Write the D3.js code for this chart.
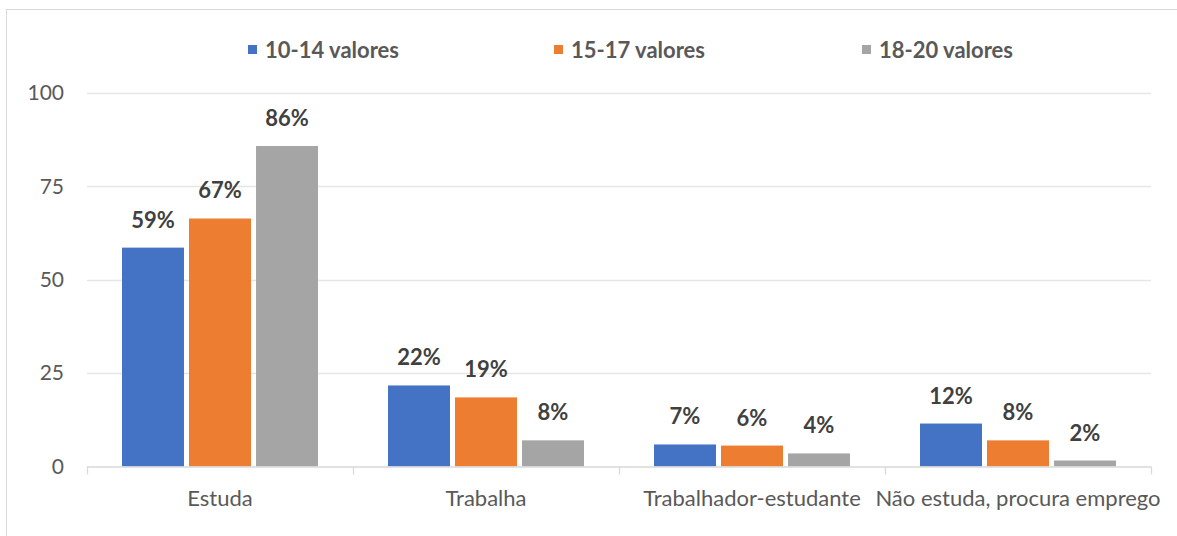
<!DOCTYPE html>
<html>
<head>
<meta charset="utf-8">
<script src="https://cdn.jsdelivr.net/npm/d3@7"></script>
<style>
  html, body { margin: 0; padding: 0; background: #fff; }
  svg { display: block; font-family: Lato, "Liberation Sans", sans-serif; }
</style>
</head>
<body>
<div id="chart"></div>
<script>
const categories = ["Estuda", "Trabalha", "Trabalhador-estudante", "Não estuda, procura emprego"];
const seriesNames = ["10-14 valores", "15-17 valores", "18-20 valores"];
const valores1014 = [58.6, 21.7, 5.9, 11.5];
const valores1517 = [66.4, 18.5, 5.6, 7.0];
const valores1820 = [85.8, 7.0, 3.5, 1.6];
const labels1014 = ["59%", "22%", "7%", "12%"];
const labels1517 = ["67%", "19%", "6%", "8%"];
const labels1820 = ["86%", "8%", "4%", "2%"];
const yTicks = [0, 25, 50, 75, 100];

const colors = ["#4472C4", "#ED7D31", "#A5A5A5"];
const width = 1177;
const height = 536;
const margin = { top: 93, right: 26, bottom: 70, left: 87 };
const y0 = 466.5;

const svg = d3.select("#chart")
    .append("svg")
    .attr("width", width)
    .attr("height", height);

// frame
svg.append("rect")
    .attr("x", 6.5)
    .attr("y", 9.5)
    .attr("width", width + 20)
    .attr("height", height + 20)
    .attr("fill", "none")
    .attr("stroke", "#D9D9D9")
    .attr("stroke-width", 1);

const series = [valores1014, valores1517, valores1820].map((vals, i) => ({
    name: seriesNames[i],
    color: colors[i],
    values: vals,
    labels: [labels1014, labels1517, labels1820][i]
}));

const x0 = d3.scaleBand().domain(categories).range([margin.left, 1151]).paddingInner(0).paddingOuter(0);
const x1 = d3.scaleBand().domain(seriesNames).range([35, x0.bandwidth() - 35]).paddingInner(0.075);
const yScale = d3.scaleLinear().domain([0, 100]).range([y0, margin.top]);

// gridlines
svg.append("g")
    .selectAll("line")
    .data(yTicks.slice(1))
    .enter()
    .append("line")
    .attr("x1", margin.left)
    .attr("x2", 1151)
    .attr("y1", d => Math.round(yScale(d)) + 0.5)
    .attr("y2", d => Math.round(yScale(d)) + 0.5)
    .attr("stroke", "#E6E6E6")
    .attr("stroke-width", 1.3);

// y tick labels
svg.append("g")
    .selectAll("text")
    .data(yTicks)
    .enter()
    .append("text")
    .attr("x", 64)
    .attr("y", d => yScale(d))
    .attr("dy", "0.35em")
    .attr("text-anchor", "end")
    .style("font-size", "21px")
    .style("fill", "#595959")
    .text(d => d);

// bars
const groups = svg.selectAll(".grp")
    .data(series)
    .enter()
    .append("g")
    .attr("class", "grp");

groups.selectAll("rect")
    .data(s => s.values.map((v, j) => ({ s: s, cat: categories[j], v: v, label: s.labels[j] })))
    .enter()
    .append("rect")
    .attr("x", d => x0(d.cat) + x1(d.s.name))
    .attr("y", d => yScale(d.v))
    .attr("width", x1.bandwidth())
    .attr("height", d => y0 - yScale(d.v))
    .attr("fill", d => d.s.color);

groups.selectAll("text")
    .data(s => s.values.map((v, j) => ({ s: s, cat: categories[j], v: v, label: s.labels[j] })))
    .enter()
    .append("text")
    .attr("x", d => x0(d.cat) + x1(d.s.name) + x1.bandwidth() / 2)
    .attr("y", d => yScale(d.v) - 20)
    .attr("text-anchor", "middle")
    .style("font-size", "22px")
    .style("font-weight", "bold")
    .style("fill", "#404040")
    .text(d => d.label);

// x axis
const xAxisGroup = svg.append("g")
    .attr("transform", `translate(0,${y0})`);
xAxisGroup.append("line")
    .attr("x1", margin.left)
    .attr("x2", 1151)
    .attr("y1", 0.5)
    .attr("y2", 0.5)
    .attr("stroke", "#D9D9D9")
    .attr("stroke-width", 1.3);
xAxisGroup.selectAll(".tick")
    .data(categories.map(c => x0(c)).concat([1151]))
    .enter()
    .append("line")
    .attr("x1", d => Math.round(d) + 0.5)
    .attr("x2", d => Math.round(d) + 0.5)
    .attr("y1", 0)
    .attr("y2", 8)
    .attr("stroke", "#D9D9D9")
    .attr("stroke-width", 1.3);
xAxisGroup.selectAll(".cat")
    .data(categories)
    .enter()
    .append("text")
    .attr("x", d => x0(d) + x0.bandwidth() / 2)
    .attr("y", 39)
    .attr("text-anchor", "middle")
    .style("font-size", "22px")
    .style("fill", "#595959")
    .text(d => d);

// legend
const legendX = [248, 554, 862];
const legend = svg.selectAll(".legend")
    .data(series)
    .enter()
    .append("g")
    .attr("transform", (d, i) => `translate(${legendX[i]},50)`);
legend.append("rect")
    .attr("x", 0)
    .attr("y", -5)
    .attr("width", 9)
    .attr("height", 9)
    .attr("fill", d => d.color);
legend.append("text")
    .attr("x", 17)
    .attr("y", 8)
    .style("font-size", "22px")
    .style("font-weight", "bold")
    .style("fill", "#595959")
    .text(d => d.name);
</script>
</body>
</html>
